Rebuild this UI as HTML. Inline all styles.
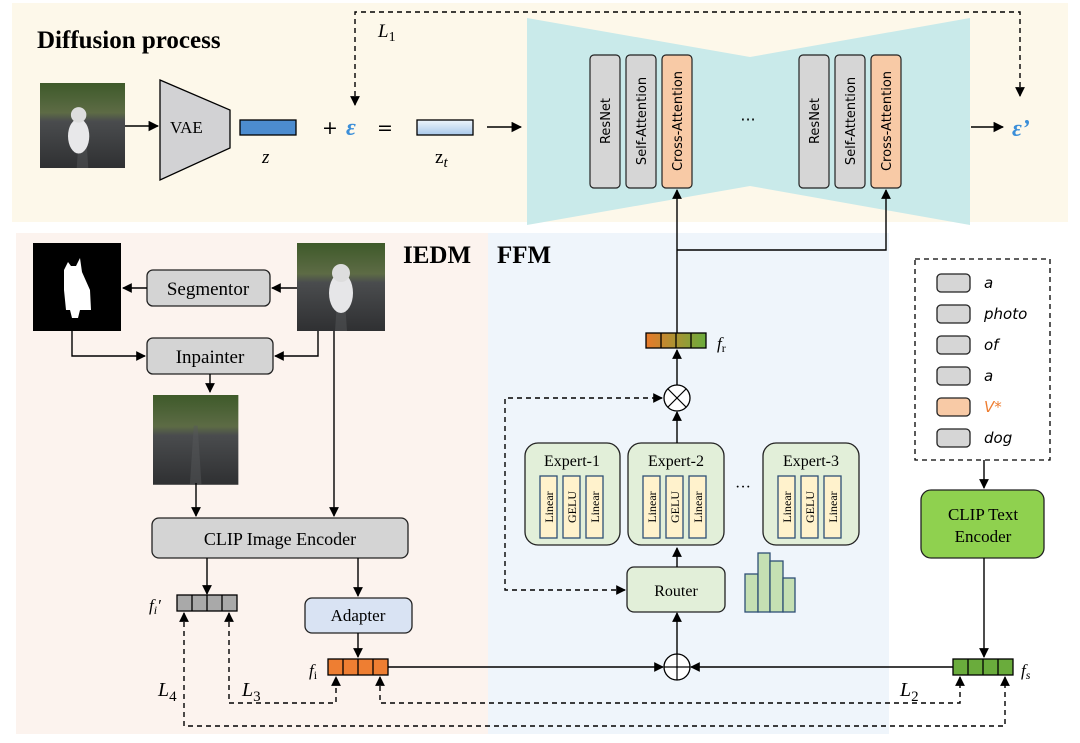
<!DOCTYPE html>
<html><head><meta charset="utf-8"><style>
html,body{margin:0;padding:0;background:#fff;}
svg{display:block;}
.s{font-family:"Liberation Serif",serif;}
.d{font-family:"DejaVu Sans",sans-serif;}
</style></head><body>
<svg width="1080" height="743" viewBox="0 0 1080 743" xmlns="http://www.w3.org/2000/svg">
<defs>
<marker id="a" viewBox="0 0 10 10" refX="9" refY="5" markerWidth="7" markerHeight="7" orient="auto-start-reverse"><path d="M0,0 L10,5 L0,10 z" fill="#000"/></marker>
<linearGradient id="zt" x1="0" y1="0" x2="0" y2="1"><stop offset="0" stop-color="#eef5fc"/><stop offset="1" stop-color="#a9c8ea"/></linearGradient>
<linearGradient id="fr" x1="0" y1="0" x2="1" y2="0"><stop offset="0" stop-color="#e87a2a"/><stop offset="1" stop-color="#6aac3c"/></linearGradient>
<linearGradient id="road" x1="0" y1="0" x2="0" y2="1"><stop offset="0" stop-color="#3e5a2a"/><stop offset="0.35" stop-color="#5d6b45"/><stop offset="0.45" stop-color="#4a4c4e"/><stop offset="1" stop-color="#2f3032"/></linearGradient>
<g id="dogimg"><rect width="88" height="88" fill="url(#road)"/><path d="M38 88 L42 30 L46 30 L50 88 z" fill="#55585a" opacity="0.5"/></g>
</defs>

<!-- panels -->
<rect x="12" y="3" width="1056" height="219" fill="#fdf8ea"/>
<rect x="16" y="233" width="472" height="501" fill="#fcf3ee"/>
<rect x="488" y="233" width="401" height="501" fill="#eff5fb"/>

<text x="37" y="48" class="s" font-size="25" font-weight="bold">Diffusion process</text>

<!-- image 1 -->
<g transform="translate(40,83) scale(0.966)"><use href="#dogimg"/><ellipse cx="40" cy="55" rx="11" ry="18" fill="#e8e8ea"/><circle cx="40" cy="33" r="8" fill="#ddd"/></g>
<line x1="125" y1="126" x2="158" y2="126" stroke="#000" stroke-width="1.5" marker-end="url(#a)"/>
<polygon points="160,80 230,110 230,148 160,180" fill="#d2d2d4" stroke="#000" stroke-width="1.3"/>
<text x="170" y="133" class="s" font-size="17">VAE</text>
<rect x="240" y="120" width="56" height="15" fill="#4c8ccf" stroke="#000" stroke-width="1.3"/>
<text x="262" y="163" class="s" font-size="19" font-style="italic">z</text>
<text x="322" y="134" class="d" font-size="19">+</text>
<text x="346" y="135" class="s" font-size="24" font-style="italic" font-weight="bold" fill="#3b8fd9">ε</text>
<text x="377" y="134" class="d" font-size="19">=</text>
<rect x="417" y="120" width="56" height="15" fill="url(#zt)" stroke="#000" stroke-width="1.3"/>
<text x="435" y="163" class="s" font-size="19">z<tspan font-size="15" font-style="italic" dy="4">t</tspan></text>
<line x1="487" y1="127" x2="521" y2="127" stroke="#000" stroke-width="1.5" marker-end="url(#a)"/>

<!-- UNet -->
<polygon points="527,18 750,57 970,18 970,225 750,186 527,225" fill="#c9eaea"/>
<g stroke="#222" stroke-width="1.2">
<rect x="590" y="55" width="30" height="133" rx="4" fill="#d6d6d6"/>
<rect x="626" y="55" width="30" height="133" rx="4" fill="#d6d6d6"/>
<rect x="662" y="55" width="30" height="133" rx="4" fill="#f8caa6"/>
<rect x="799" y="55" width="30" height="133" rx="4" fill="#d6d6d6"/>
<rect x="835" y="55" width="30" height="133" rx="4" fill="#d6d6d6"/>
<rect x="871" y="55" width="30" height="133" rx="4" fill="#f8caa6"/>
</g>
<g class="d" font-size="13" text-anchor="middle">
<text transform="translate(610,121) rotate(-90)">ResNet</text>
<text transform="translate(646,121) rotate(-90)">Self-Attention</text>
<text transform="translate(682,121) rotate(-90)">Cross-Attention</text>
<text transform="translate(819,121) rotate(-90)">ResNet</text>
<text transform="translate(855,121) rotate(-90)">Self-Attention</text>
<text transform="translate(891,121) rotate(-90)">Cross-Attention</text>
</g>
<text x="748" y="125" class="d" font-size="16" text-anchor="middle">···</text>
<line x1="971" y1="127" x2="1003" y2="127" stroke="#000" stroke-width="1.5" marker-end="url(#a)"/>
<text x="1012" y="136" class="s" font-size="24" font-style="italic" font-weight="bold" fill="#3b8fd9">ε’</text>

<!-- L1 -->
<path d="M1020,96 L1020,12 L355,12 L355,105" fill="none" stroke="#000" stroke-width="1.4" stroke-dasharray="5,4" marker-start="url(#a)" marker-end="url(#a)"/>
<text x="378" y="37" class="s" font-size="19" font-style="italic">L<tspan font-size="14" font-style="normal" dy="4">1</tspan></text>

<!-- IEDM -->
<text x="403" y="263" class="s" font-size="25" font-weight="bold">IEDM</text>
<text x="497" y="263" class="s" font-size="25" font-weight="bold">FFM</text>
<rect x="33" y="243" width="88" height="88" fill="#000"/>
<path d="M64,270 L68,262 L71,266 L76,266 L80,258 L82,272 L90,290 L91,310 L80,310 L78,318 L72,318 L70,310 L66,310 L64,290 z" fill="#fff"/>
<g transform="translate(297,243)"><use href="#dogimg"/><ellipse cx="44" cy="50" rx="12" ry="20" fill="#e6e6e8"/><circle cx="44" cy="30" r="9" fill="#ddd"/></g>
<rect x="147" y="270" width="123" height="36" rx="6" fill="#d4d4d4" stroke="#222" stroke-width="1.3"/>
<text x="208" y="295" class="s" font-size="19" text-anchor="middle">Segmentor</text>
<line x1="297" y1="288" x2="272" y2="288" stroke="#000" stroke-width="1.4" marker-end="url(#a)"/>
<line x1="147" y1="288" x2="123" y2="288" stroke="#000" stroke-width="1.4" marker-end="url(#a)"/>
<rect x="147" y="338" width="126" height="36" rx="6" fill="#d4d4d4" stroke="#222" stroke-width="1.3"/>
<text x="210" y="363" class="s" font-size="19" text-anchor="middle">Inpainter</text>
<path d="M72,331 L72,356 L145,356" fill="none" stroke="#000" stroke-width="1.4" marker-end="url(#a)"/>
<path d="M318,331 L318,356 L275,356" fill="none" stroke="#000" stroke-width="1.4" marker-end="url(#a)"/>
<line x1="210" y1="374" x2="210" y2="392" stroke="#000" stroke-width="1.4" marker-end="url(#a)"/>
<g transform="translate(153,395) scale(0.97,1.02)"><use href="#dogimg"/></g>
<line x1="196" y1="483" x2="196" y2="516" stroke="#000" stroke-width="1.4" marker-end="url(#a)"/>
<line x1="334" y1="331" x2="334" y2="516" stroke="#000" stroke-width="1.4" marker-end="url(#a)"/>
<rect x="152" y="518" width="256" height="40" rx="7" fill="#d4d4d4" stroke="#222" stroke-width="1.3"/>
<text x="280" y="545" class="s" font-size="18" text-anchor="middle">CLIP Image Encoder</text>
<line x1="207" y1="558" x2="207" y2="594" stroke="#000" stroke-width="1.4" marker-end="url(#a)"/>
<line x1="358" y1="558" x2="358" y2="596" stroke="#000" stroke-width="1.4" marker-end="url(#a)"/>
<g stroke="#000" stroke-width="1.3" fill="#a9a9a9"><rect x="177" y="595" width="60" height="16"/><line x1="192" y1="595" x2="192" y2="611"/><line x1="207" y1="595" x2="207" y2="611"/><line x1="222" y1="595" x2="222" y2="611"/></g>
<text x="149" y="611" class="s" font-size="17" font-style="italic">f<tspan font-size="12" dy="3">i</tspan><tspan dy="-3">′</tspan></text>
<rect x="305" y="598" width="107" height="35" rx="7" fill="#d9e3f3" stroke="#222" stroke-width="1.3"/>
<text x="358" y="621" class="s" font-size="17" text-anchor="middle">Adapter</text>
<line x1="358" y1="633" x2="358" y2="657" stroke="#000" stroke-width="1.4" marker-end="url(#a)"/>
<g stroke="#000" stroke-width="1.3" fill="#ee7e32"><rect x="328" y="659" width="60" height="16"/><line x1="343" y1="659" x2="343" y2="675"/><line x1="358" y1="659" x2="358" y2="675"/><line x1="373" y1="659" x2="373" y2="675"/></g>
<text x="309" y="676" class="s" font-size="17" font-style="italic">f<tspan font-size="12" font-style="normal" dy="3">i</tspan></text>

<!-- FFM -->
<line x1="388" y1="667" x2="663" y2="667" stroke="#000" stroke-width="1.4" marker-end="url(#a)"/>
<line x1="953" y1="667" x2="691" y2="667" stroke="#000" stroke-width="1.4" marker-end="url(#a)"/>
<circle cx="677" cy="667" r="13" fill="#fff" stroke="#000" stroke-width="1.3"/>
<line x1="664" y1="667" x2="690" y2="667" stroke="#000" stroke-width="1.2"/><line x1="677" y1="654" x2="677" y2="680" stroke="#000" stroke-width="1.2"/>
<line x1="677" y1="654" x2="677" y2="613" stroke="#000" stroke-width="1.4" marker-end="url(#a)"/>
<rect x="627" y="567" width="98" height="45" rx="7" fill="#e2efd9" stroke="#222" stroke-width="1.3"/>
<text x="676" y="596" class="s" font-size="16" text-anchor="middle">Router</text>
<g fill="#c5e0b3" stroke="#2e4f75" stroke-width="1.3">
<rect x="745" y="574" width="13" height="38"/><rect x="758" y="553" width="12" height="59"/><rect x="770" y="561" width="13" height="51"/><rect x="783" y="578" width="12" height="34"/></g>
<line x1="677" y1="567" x2="677" y2="548" stroke="#000" stroke-width="1.4" marker-end="url(#a)"/>
<g id="exp">
</g>
<g stroke="#222" stroke-width="1.3" fill="#e2efd9">
<rect x="525" y="443" width="95" height="102" rx="13"/>
<rect x="628" y="443" width="96" height="102" rx="13"/>
<rect x="763" y="443" width="96" height="102" rx="13"/>
</g>
<g class="s" font-size="16" text-anchor="middle"><text x="572" y="466">Expert-1</text><text x="676" y="466">Expert-2</text><text x="811" y="466">Expert-3</text></g>
<g fill="#fff2cc" stroke="#2e4f75" stroke-width="1.3">
<rect x="540" y="476" width="17" height="62"/><rect x="563" y="476" width="17" height="62"/><rect x="586" y="476" width="17" height="62"/>
<rect x="643" y="476" width="17" height="62"/><rect x="666" y="476" width="17" height="62"/><rect x="689" y="476" width="17" height="62"/>
<rect x="778" y="476" width="17" height="62"/><rect x="801" y="476" width="17" height="62"/><rect x="824" y="476" width="17" height="62"/>
</g>
<g class="s" font-size="12" text-anchor="middle">
<text transform="translate(553,507) rotate(-90)">Linear</text><text transform="translate(576,507) rotate(-90)">GELU</text><text transform="translate(599,507) rotate(-90)">Linear</text>
<text transform="translate(656,507) rotate(-90)">Linear</text><text transform="translate(679,507) rotate(-90)">GELU</text><text transform="translate(702,507) rotate(-90)">Linear</text>
<text transform="translate(791,507) rotate(-90)">Linear</text><text transform="translate(814,507) rotate(-90)">GELU</text><text transform="translate(837,507) rotate(-90)">Linear</text>
</g>
<text x="743" y="492" class="s" font-size="16" text-anchor="middle">···</text>
<line x1="677" y1="443" x2="677" y2="412" stroke="#000" stroke-width="1.4" marker-end="url(#a)"/>
<circle cx="677" cy="398" r="13" fill="#fff" stroke="#000" stroke-width="1.3"/>
<line x1="668" y1="389" x2="686" y2="407" stroke="#000" stroke-width="1.2"/><line x1="686" y1="389" x2="668" y2="407" stroke="#000" stroke-width="1.2"/>
<path d="M625,590 L505,590 L505,398 L662,398" fill="none" stroke="#000" stroke-width="1.4" stroke-dasharray="5,4" marker-start="url(#a)" marker-end="url(#a)"/>
<line x1="677" y1="385" x2="677" y2="350" stroke="#000" stroke-width="1.4" marker-end="url(#a)"/>
<g stroke="#000" stroke-width="1.3"><rect x="646" y="333" width="60" height="15" fill="url(#fr)"/><line x1="661" y1="333" x2="661" y2="348"/><line x1="676" y1="333" x2="676" y2="348"/><line x1="691" y1="333" x2="691" y2="348"/></g>
<text x="717" y="349" class="s" font-size="17" font-style="italic">f<tspan font-size="12" font-style="normal" dy="3">r</tspan></text>
<line x1="677" y1="333" x2="677" y2="190" stroke="#000" stroke-width="1.4" marker-end="url(#a)"/>
<path d="M677,250 L886,250 L886,190" fill="none" stroke="#000" stroke-width="1.4" marker-end="url(#a)"/>

<!-- prompt -->
<rect x="915" y="259" width="135" height="201" fill="none" stroke="#000" stroke-width="1.3" stroke-dasharray="5,4"/>
<g stroke="#222" stroke-width="1.3">
<rect x="937" y="274" width="33" height="18" rx="4" fill="#d6d6d6"/>
<rect x="937" y="305" width="33" height="18" rx="4" fill="#d6d6d6"/>
<rect x="937" y="336" width="33" height="18" rx="4" fill="#d6d6d6"/>
<rect x="937" y="367" width="33" height="18" rx="4" fill="#d6d6d6"/>
<rect x="937" y="398" width="33" height="18" rx="4" fill="#f8caa6"/>
<rect x="937" y="429" width="33" height="18" rx="4" fill="#d6d6d6"/>
</g>
<g font-family="'DejaVu Sans',sans-serif" font-style="italic" font-size="15">
<text x="984" y="288">a</text><text x="984" y="319">photo</text><text x="984" y="350">of</text><text x="984" y="381">a</text><text x="984" y="412" fill="#ee7e32">V*</text><text x="984" y="443">dog</text>
</g>
<line x1="984" y1="460" x2="984" y2="488" stroke="#000" stroke-width="1.4" marker-end="url(#a)"/>
<rect x="921" y="490" width="123" height="68" rx="10" fill="#8fd14f" stroke="#222" stroke-width="1.3"/>
<text x="983" y="520" class="s" font-size="17" text-anchor="middle">CLIP Text</text>
<text x="983" y="542" class="s" font-size="17" text-anchor="middle">Encoder</text>
<line x1="984" y1="558" x2="984" y2="657" stroke="#000" stroke-width="1.4" marker-end="url(#a)"/>
<g stroke="#000" stroke-width="1.3" fill="#6aac3c"><rect x="953" y="659" width="60" height="16"/><line x1="968" y1="659" x2="968" y2="675"/><line x1="983" y1="659" x2="983" y2="675"/><line x1="998" y1="659" x2="998" y2="675"/></g>
<text x="1021" y="676" class="s" font-size="17" font-style="italic">f<tspan font-size="12" dy="3">s</tspan></text>

<!-- losses -->
<g fill="none" stroke="#000" stroke-width="1.4" stroke-dasharray="5,4">
<path d="M229,613 L229,703 L336,703 L336,677" marker-start="url(#a)" marker-end="url(#a)"/>
<path d="M380,677 L380,703 L960,703 L960,677" marker-start="url(#a)" marker-end="url(#a)"/>
<path d="M184,613 L184,726 L1005,726 L1005,677" marker-start="url(#a)" marker-end="url(#a)"/>
</g>
<text x="158" y="696" class="s" font-size="20" font-style="italic">L<tspan font-size="15" font-style="normal" dy="5">4</tspan></text>
<text x="242" y="696" class="s" font-size="20" font-style="italic">L<tspan font-size="15" font-style="normal" dy="5">3</tspan></text>
<text x="900" y="696" class="s" font-size="20" font-style="italic">L<tspan font-size="15" font-style="normal" dy="5">2</tspan></text>
</svg>
</body></html>
